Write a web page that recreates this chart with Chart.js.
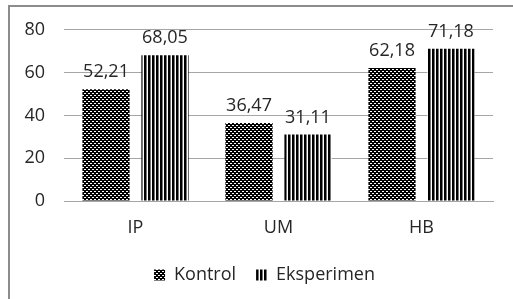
<!DOCTYPE html>
<html>
<head>
<meta charset="utf-8">
<script src="https://cdn.jsdelivr.net/npm/chart.js@4"></script>
<style>
  html, body { margin: 0; padding: 0; background: #fff; }
  #wrap { width: 513px; height: 299px; }
</style>
</head>
<body>
<div id="wrap"><canvas id="chart" width="513" height="299"></canvas></div>
<script>
// === Data ===
const categories = ["IP", "UM", "HB"];
const kontrol = [52.21, 36.47, 62.18];
const eksperimen = [68.05, 31.11, 71.18];
const yTicks = [0, 20, 40, 60, 80];

const FONT = "'Open Sans', sans-serif";
const TEXT = "#262626";
const SIZE = 18;

// fill patterns (Excel-like hatch)
function checkerPattern() {
  const c = document.createElement("canvas");
  c.width = 4; c.height = 4;
  const g = c.getContext("2d");
  g.fillStyle = "#000";
  g.fillRect(0, 0, 4, 4);
  g.fillStyle = "#fff";
  g.fillRect(0, 1, 2, 1);
  g.fillRect(2, 3, 2, 1);
  return g.createPattern(c, "repeat");
}
function stripePattern() {
  const c = document.createElement("canvas");
  c.width = 4; c.height = 1;
  const g = c.getContext("2d");
  g.fillStyle = "#fff";
  g.fillRect(0, 0, 4, 1);
  g.fillStyle = "#000";
  g.fillRect(0, 0, 2, 1);
  g.fillStyle = "#777";
  g.fillRect(2, 0, 1, 1);
  return g.createPattern(c, "repeat");
}

// === frame around the chart (cut off on the right/bottom like the source) ===
const framePlugin = {
  id: "frame",
  beforeDraw(chart) {
    const ctx = chart.ctx;
    ctx.save();
    ctx.strokeStyle = "#8c8c8c";
    ctx.lineWidth = 2;
    ctx.strokeRect(9, 6, 600, 400);
    ctx.restore();
  },
};

// nudge the legend to the right, it is centred on the plot in the source
const legendShift = {
  id: "legendShift",
  afterLayout(chart) {
    if (chart.legend) {
      chart.legend.left += 18;
      chart.legend.right += 18;
    }
  },
};

// === value labels above the bars ===
const valueLabels = {
  id: "valueLabels",
  afterDatasetsDraw(chart) {
    const ctx = chart.ctx;
    ctx.save();
    ctx.font = SIZE + "px " + FONT;
    ctx.fillStyle = TEXT;
    ctx.textAlign = "center";
    ctx.textBaseline = "bottom";
    chart.data.datasets.forEach((ds, i) => {
      chart.getDatasetMeta(i).data.forEach((bar, j) => {
        const txt = ds.data[j].toFixed(2).replace(".", ",");
        ctx.fillText(txt, bar.x, bar.y - 8);
      });
    });
    ctx.restore();
  },
};

const ctx = document.getElementById("chart").getContext("2d");
new Chart(ctx, {
  type: "bar",
  data: {
    labels: categories,
    datasets: [
      {
        label: "Kontrol",
        data: kontrol,
        backgroundColor: checkerPattern(),
        borderWidth: 0,
        categoryPercentage: 0.825,
        barPercentage: 0.8,
      },
      {
        label: "Eksperimen",
        data: eksperimen,
        backgroundColor: stripePattern(),
        borderWidth: 0,
        categoryPercentage: 0.825,
        barPercentage: 0.8,
      },
    ],
  },
  options: {
    responsive: false,
    animation: false,
    layout: { padding: { top: 29, right: 20, left: 0, bottom: 5 } },
    plugins: {
      legend: {
        position: "bottom",
        labels: {
          boxWidth: 11,
          boxHeight: 11,
          padding: 20,
          color: TEXT,
          font: { family: FONT, size: SIZE },
        },
      },
      tooltip: { enabled: false },
    },
    scales: {
      x: {
        grid: { display: false },
        border: { display: true, color: "#a6a6a6", width: 1 },
        ticks: { color: TEXT, font: { family: FONT, size: SIZE }, padding: 8 },
        afterFit(scale) { scale.height = 45; },
      },
      y: {
        min: 0,
        max: 80,
        afterBuildTicks(scale) { scale.ticks = yTicks.map(v => ({ value: v })); },
        grid: { color: "#a6a6a6", drawTicks: false },
        border: { display: false },
        ticks: { color: TEXT, font: { family: FONT, size: SIZE }, padding: 19 },
        afterFit(scale) { scale.width = 64; },
      },
    },
  },
  plugins: [framePlugin, legendShift, valueLabels],
});
</script>
</body>
</html>
